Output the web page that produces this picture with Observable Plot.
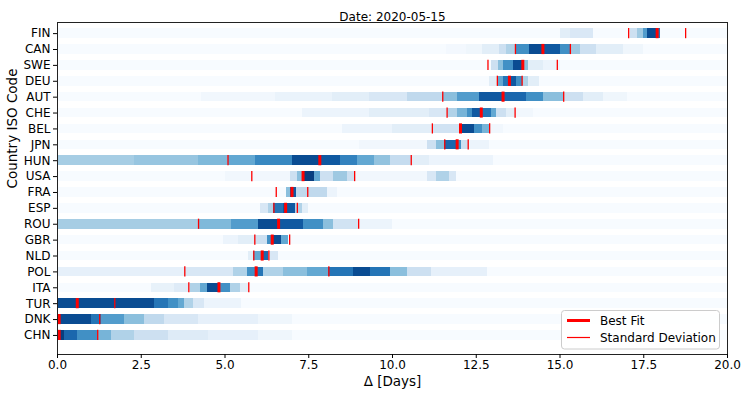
<!DOCTYPE html>
<html>
<head>
<meta charset="utf-8">
<script src="https://cdn.jsdelivr.net/npm/d3@7"></script>
<script src="https://cdn.jsdelivr.net/npm/@observablehq/plot@0.6"></script>
<style>
  html, body { margin: 0; padding: 0; background: white; }
  #chart { position: relative; width: 747px; height: 398px; }
</style>
</head>
<body>
<div id="chart"></div>
<script>
// Countries, top to bottom
const countries = ["FIN","CAN","SWE","DEU","AUT","CHE","BEL","JPN","HUN","USA","FRA","ESP","ROU","GBR","NLD","POL","ITA","TUR","DNK","CHN"];
// Best fit delay (days)
const bestFit = [17.90,14.49,13.89,13.49,13.30,12.65,12.03,11.93,7.83,7.33,7.00,6.81,6.60,6.41,6.11,5.93,4.82,0.59,0.05,0.05];
// Standard deviation bounds (days); null = off the chart
const sdLow  = [17.05,13.67,12.85,13.13,11.50,11.63,11.19,11.56,5.09,5.80,6.53,6.46,4.21,5.89,5.86,3.80,3.92,null,null,null];
const sdHigh = [18.75,15.31,14.92,13.87,15.11,13.66,12.90,12.26,10.56,8.87,7.47,7.16,8.99,6.93,6.31,8.10,5.71,1.71,1.26,1.20];
// Density strips: [from day, to day, intensity 0-10]
const FIN = [[15.0,15.3,1],[15.3,16.0,1.4],[17.1,17.3,2],[17.3,17.5,3.5],[17.5,17.6,5.5],[17.6,17.9,8.5],[17.9,18.0,7]];
const CAN = [[11.6,12.2,0.2],[12.2,12.7,0.4],[12.7,13.2,1],[13.2,13.4,2],[13.4,13.67,3],[13.67,14.1,6],[14.1,14.5,8.5],[14.5,15.0,8],[15.0,15.31,6],[15.31,15.6,3.5],[15.6,16.1,2],[16.1,16.9,1],[16.9,17.5,0.4]];
const SWE = [[12.97,13.16,2],[13.16,13.3,4],[13.3,13.6,6],[13.6,13.9,8.5],[13.9,14.06,4],[14.06,14.5,1],[14.5,15.0,0.5]];
const DEU = [[12.9,13.13,1],[13.13,13.3,5],[13.3,13.49,7],[13.49,13.7,8],[13.7,13.87,6],[13.87,14.05,3],[14.05,14.4,1]];
const AUT = [[4.3,6.5,0.3],[6.5,8.2,0.6],[8.2,9.3,1],[9.3,10.45,1.5],[10.45,11.5,2.5],[11.5,11.95,4],[11.95,12.6,5.5],[12.6,13.3,8],[13.3,14.0,7.5],[14.0,14.5,6],[14.5,15.1,4],[15.1,15.7,2],[15.7,16.3,1],[16.3,17.0,0.4]];
const CHE = [[7.3,9.3,0.5],[9.3,11.1,1],[11.1,11.63,1.5],[11.63,11.95,3],[11.95,12.25,4.5],[12.25,12.4,6],[12.4,12.65,8],[12.65,12.95,7],[12.95,13.1,5],[13.1,13.4,2],[13.4,13.66,1],[13.66,14.2,0.3]];
const BEL = [[8.5,10.0,0.5],[10.0,11.19,1],[11.19,12.0,1.8],[12.03,12.45,8.5],[12.45,12.7,6],[12.7,12.9,4.5],[12.9,13.3,0.3]];
const JPN = [[9.0,11.05,0.3],[11.05,11.3,2],[11.3,11.56,4],[11.56,11.93,7.5],[11.93,12.05,6],[12.05,12.26,2],[12.26,12.9,0.5]];
const HUN = [[0,2.3,3.3],[2.3,4.2,3.7],[4.2,5.09,4.3],[5.09,5.9,5],[5.9,7.0,6.3],[7.0,7.83,8.5],[7.83,8.45,8],[8.45,8.95,6.5],[8.95,9.45,5],[9.45,9.95,3.8],[9.95,10.56,2.3],[10.56,11.1,1],[11.1,13.0,0.5]];
const USA = [[5.0,6.95,0.3],[6.95,7.17,2],[7.17,7.33,4],[7.33,7.67,9],[7.67,7.85,5],[7.85,8.25,2],[8.25,8.65,3.5],[8.65,8.87,2],[8.87,11.05,0.3],[11.05,11.3,1.5],[11.3,11.7,3],[11.7,11.9,1.5]];
const FRA = [[6.85,6.97,4],[6.97,7.12,8],[7.12,8.05,2.5],[8.05,8.35,0.5]];
const ESP = [[6.05,6.3,1.5],[6.3,6.46,3],[6.46,6.75,7],[6.75,7.1,8],[7.1,7.3,3],[7.3,7.5,1]];
const ROU = [[0,4.2,3.3],[4.2,5.2,4.3],[5.2,6.0,5.5],[6.0,6.6,8.5],[6.6,7.35,8],[7.35,7.95,6],[7.95,8.25,4],[8.25,8.99,1.8],[8.99,10.0,0.5]];
const GBR = [[4.96,5.4,0.5],[5.4,5.89,1],[5.89,6.27,2],[6.27,6.41,6],[6.41,6.7,8.5],[6.7,6.9,5]];
const NLD = [[5.7,5.86,1],[5.86,6.11,5],[6.11,6.31,7.5],[6.31,6.6,1.5]];
const POL = [[0,3.8,0.8],[3.8,5.25,1.5],[5.25,5.67,3],[5.67,5.93,6],[5.93,6.15,7],[6.15,6.75,3],[6.75,7.45,4],[7.45,8.1,5],[8.1,8.85,7],[8.85,9.35,8.5],[9.35,9.95,7],[9.95,10.45,4],[10.45,11.15,2],[11.15,12.85,0.8]];
const ITA = [[2.8,3.5,0.7],[3.5,3.97,1.2],[3.97,4.27,3],[4.27,4.48,5],[4.48,4.87,8.5],[4.87,5.16,6],[5.16,5.45,3],[5.45,5.71,1]];
const TUR = [[0,2.9,8.5],[2.9,3.3,7],[3.3,3.6,6],[3.6,3.8,5],[3.8,4.05,3],[4.05,4.4,1.5],[4.4,5.5,0.5]];
const DNK = [[0,1.0,8.5],[1.0,1.3,7],[1.3,2.0,5.5],[2.0,2.6,4],[2.6,3.2,2.5],[3.2,4.2,1.5],[4.2,6.0,0.8],[6.0,7.0,0.4]];
const CHN = [[0,0.2,9],[0.2,0.6,7.5],[0.6,1.2,6],[1.2,1.6,4.5],[1.6,2.3,3],[2.3,3.3,2],[3.3,4.5,1.2],[4.5,6.0,0.8],[6.0,7.0,0.4]];
const densityRows = [FIN,CAN,SWE,DEU,AUT,CHE,BEL,JPN,HUN,USA,FRA,ESP,ROU,GBR,NLD,POL,ITA,TUR,DNK,CHN];
const xTicks = [0, 2.5, 5, 7.5, 10, 12.5, 15, 17.5, 20];
const titleText = "Date: 2020-05-15";
const xLabel = "\u0394 [Days]";
const yLabel = "Country ISO Code";

// Build tables
const n = countries.length;
const pos = i => n - 1 - i; // bottom row = 0
const H = 0.3;
const rowsTable = countries.map((c, i) => ({c, y: pos(i), level: 0}));
const segs = [];
densityRows.forEach((row, i) => row.forEach(([a, b, v]) => segs.push({x1: a, x2: b, y: pos(i), level: v})));
const best = countries.map((c, i) => ({x: bestFit[i], y: pos(i)}));
const sd = [];
countries.forEach((c, i) => {
  if (sdLow[i] != null) sd.push({x: sdLow[i], y: pos(i)});
  if (sdHigh[i] != null) sd.push({x: sdHigh[i], y: pos(i)});
});

const font = "'DejaVu Sans', sans-serif";
const plot = Plot.plot({
  width: 747,
  height: 398,
  marginLeft: 57,
  marginRight: 20,
  marginTop: 22,
  marginBottom: 44,
  style: {fontFamily: font, fontSize: "12px", background: "white", color: "black"},
  x: {domain: [0, 20]},
  y: {domain: [-1.2, 19.7]},
  color: {type: "linear", scheme: "blues", domain: [0, 9.5]},
  marks: [
    Plot.rect(rowsTable, {x1: () => 0, x2: () => 20, y1: d => d.y - H, y2: d => d.y + H, fill: "level", shapeRendering: "crispEdges"}),
    Plot.rect(segs, {x1: "x1", x2: "x2", y1: d => d.y - H, y2: d => d.y + H, fill: "level", shapeRendering: "crispEdges"}),
    Plot.ruleX(sd, {x: "x", y1: d => d.y - H - 0.02, y2: d => d.y + H + 0.02, stroke: "#ff0000", strokeWidth: 1.3, clip: true}),
    Plot.ruleX(best, {x: "x", y1: d => d.y - H - 0.02, y2: d => d.y + H + 0.02, stroke: "#ff0000", strokeWidth: 3, clip: true}),
    Plot.frame({stroke: "#222", strokeWidth: 1}),
    Plot.axisX({ticks: xTicks, tickFormat: d => d.toFixed(1), tickSize: 4, tickPadding: 2, label: null, fontSize: 12}),
    Plot.axisY({ticks: d3.range(n), tickFormat: i => countries[n - 1 - i], tickSize: 4, tickPadding: 3, label: null, fontSize: 12}),
    Plot.text([titleText], {frameAnchor: "top", dy: -10, fontSize: 12}),
    Plot.text([xLabel], {frameAnchor: "bottom", dy: 31, fontSize: 13.5}),
    Plot.text([yLabel], {frameAnchor: "left", dx: -45, rotate: -90, fontSize: 13.5})
  ]
});
document.getElementById("chart").appendChild(plot);

// Legend (bottom right, inside the axes)
const svg = d3.select(plot);
const lg = svg.append("g").attr("font-family", font).attr("font-size", "12px").attr("text-anchor", "start");
lg.append("rect").attr("x", 561.5).attr("y", 310.5).attr("width", 158).attr("height", 38.5)
  .attr("rx", 3).attr("fill", "white").attr("fill-opacity", 0.85).attr("stroke", "#cccccc");
lg.append("line").attr("x1", 567).attr("x2", 590).attr("y1", 320.5).attr("y2", 320.5).attr("stroke", "#ff0000").attr("stroke-width", 3);
lg.append("line").attr("x1", 567).attr("x2", 590).attr("y1", 337.5).attr("y2", 337.5).attr("stroke", "#ff0000").attr("stroke-width", 1.2);
lg.append("text").attr("x", 600).attr("y", 320.5).attr("dy", "0.35em").attr("text-anchor", "start").attr("fill", "black").text("Best Fit");
lg.append("text").attr("x", 600).attr("y", 337.5).attr("dy", "0.35em").attr("text-anchor", "start").attr("fill", "black").text("Standard Deviation");
</script>
</body>
</html>
